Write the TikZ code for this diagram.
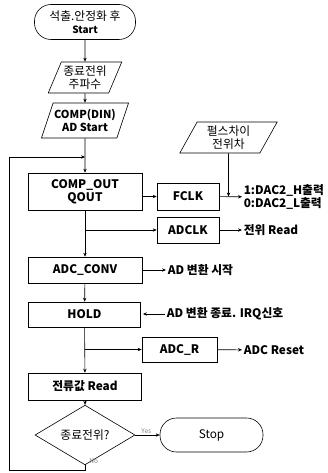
\documentclass[tikz,border=0pt]{standalone}
\usepackage{fontspec}
\setmainfont{Noto Sans CJK KR}
\usetikzlibrary{arrows.meta, shapes.geometric, positioning}

\begin{document}
\begin{tikzpicture}[x=1pt, y=-1pt, >={Stealth[length=4pt, width=3.4pt]}, line width=0.6pt,
    font=\bfseries\fontsize{11.8}{13}\selectfont,
    box/.style={draw, rectangle, align=center, inner sep=1pt},
    term/.style={draw, rectangle, rounded corners=16.5pt, align=center, inner sep=1pt},
    io/.style={draw, trapezium, trapezium left angle=64, trapezium right angle=116,
               trapezium stretches=true, align=center, inner sep=1pt},
    cond/.style={draw, diamond, inner sep=0pt},
    note/.style={anchor=west, align=left, inner sep=1.5pt},
    small/.style={font=\fontsize{6.5}{7.5}\selectfont, text=gray, inner sep=1pt}]
        \useasboundingbox (0,0) rectangle (328,473);

        % main column
        \node[term, minimum width=101pt, minimum height=35pt] (start) at (85,22)
            {\mdseries 석출.안정화 후\\\fontsize{10}{11.5}\selectfont Start};
        \node[io, minimum width=74pt, minimum height=31pt] (freq) at (85,77.5)
            {\mdseries 종료전위\\\mdseries 주파수};
        \node[io, minimum width=74pt, minimum height=35pt, font=\bfseries\fontsize{11}{12.5}\selectfont]
            (adstart) at (85,120.5) {COMP(DIN)\\AD Start};
        \node[box, minimum width=114pt, minimum height=37pt] (comp) at (85,191.5)
            {COMP\_OUT\\QOUT};
        \node[box, minimum width=114pt, minimum height=26pt] (conv) at (85,270) {ADC\_CONV};
        \node[box, minimum width=112pt, minimum height=25pt] (hold) at (84.5,314.5) {HOLD};
        \node[box, minimum width=113pt, minimum height=27pt] (read) at (85,386.5) {전류값 Read};
        \node[cond, minimum width=100pt, minimum height=34pt] (endq) at (85,435)
            {\mdseries 종료전위?};
        \node[term, minimum width=103pt, minimum height=34pt] (stop) at (211.5,435)
            {\mdseries Stop};

        % side boxes
        \node[io, minimum width=98pt, minimum height=31pt] (pulse) at (228.5,137.5)
            {\mdseries 펄스차이\\\mdseries 전위차};
        \node[box, minimum width=62pt, minimum height=27pt] (fclk) at (188,196.5) {FCLK};
        \node[box, minimum width=62pt, minimum height=26pt] (adclk) at (188,230) {ADCLK};
        \node[box, minimum width=75pt, minimum height=25pt] (adcr) at (179.5,349.5) {ADC\_R};

        % notes
        \node[note] (dacout) at (242,197) {1:DAC2\_H출력\\0:DAC2\_L출력};
        \node[note] (vread) at (242,230) {전위 Read};
        \node[note] (convstart) at (166,270) {AD 변환 시작};
        \node[note] (irq) at (165,314) {AD 변환 종료. IRQ신호};
        \node[note] (reset) at (242,350) {ADC Reset};

        % flow
        \draw[->] (start) -- (freq);
        \draw[->] (freq) -- (adstart);
        \draw[->] (adstart) -- (comp);
        \draw[->] (comp.east |- fclk.west) -- (fclk.west);
        \draw[->] (fclk) -- (dacout);
        \coordinate (pulsejoin) at (pulse.south |- fclk.east);
        \draw[->] (pulse) -- (pulsejoin);
        \draw[->] (comp.south |- adclk.west) -- (adclk.west);
        \draw[->] (adclk) -- (vread);
        \draw[->] (comp) -- (conv);
        \draw[->] (conv) -- (convstart);
        \draw[->] (conv) -- (hold);
        \draw[->] (irq.west) -- ++(-22,0) coordinate (irqtip);
        \draw[->] (hold) -- (read);
        \draw[->] (hold.south |- adcr.west) -- (adcr.west);
        \draw[->] (adcr) -- (reset);
        \draw[->] (read) -- (endq);
        \draw[->] (endq) -- node[small, above, pos=0.45] {Yes} (stop);

        % loop back
        \coordinate (loopA) at (85,470);
        \coordinate (loopB) at (9,470);
        \coordinate (loopC) at (9,157);
        \draw[->] (endq.south) -- (loopA) -- (loopB) -- (loopC) -- (loopC -| adstart.south);
        \node[small, anchor=west] (nolabel) at (88,461) {No};
\end{tikzpicture}
\end{document}
